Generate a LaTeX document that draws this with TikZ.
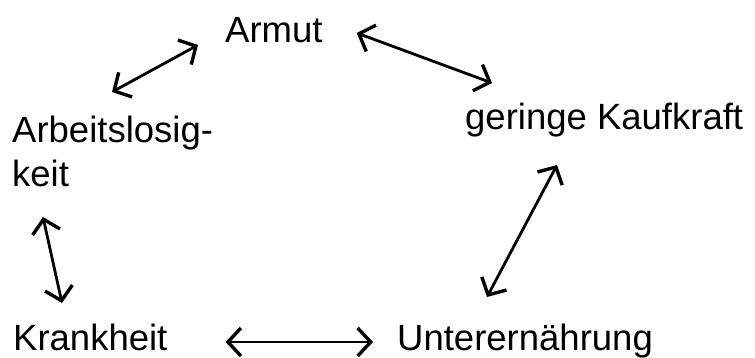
\documentclass[tikz,border=0pt]{standalone}
\usepackage{fontspec}
\setmainfont{Liberation Sans}
\usetikzlibrary{arrows.meta}

\begin{document}
\begin{tikzpicture}[
  x=1pt, y=-1pt,
  word/.style = {inner sep=0pt, font=\fontsize{36.5}{44}\selectfont},
  arrow/.style = {{Straight Barb[length=13pt,width=28pt,line width=3.4pt]}-{Straight Barb[length=13pt,width=28pt,line width=3.4pt]}, line width=2.8pt}]
  \useasboundingbox (0,0) rectangle (755,358);

  % begriffe
  \node[word, anchor=base west] (armut) at (225,43) {Armut};
  \node[word, anchor=north west, align=left] (arbeit) at (12,116) {Arbeitslosig-\\keit};
  \node[word, anchor=base west] (kauf) at (465,130) {geringe Kaufkraft};
  \node[word, anchor=base west] (krank) at (13,350) {Krankheit};
  \node[word, anchor=base west] (unter) at (397,350) {Unterernährung};

  % wechselwirkungen
  \draw[arrow] ([shift={(100,-24)}]arbeit.north west) -- ([shift={(-27,2)}]armut.base west);
  \draw[arrow] ([shift={(34,-10)}]armut.base east) -- ([shift={(27,-47)}]kauf.base west);
  \draw[arrow] ([shift={(31,101)}]arbeit.north west) -- ([shift={(49,-47)}]krank.base west);
  \draw[arrow] ([shift={(92,35)}]kauf.base west) -- ([shift={(90,-53)}]unter.base west);
  \draw[arrow] ([shift={(58,-8)}]krank.base east) -- ([shift={(-24,-8)}]unter.base west);

\end{tikzpicture}
\end{document}
